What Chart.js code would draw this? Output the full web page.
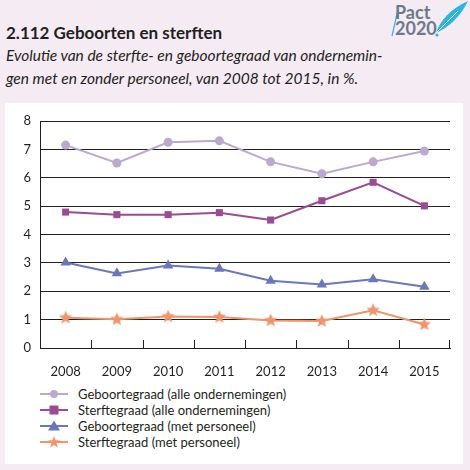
<!DOCTYPE html>
<html>
<head>
<meta charset="utf-8">
<script src="https://cdn.jsdelivr.net/npm/chart.js@4/dist/chart.umd.min.js"></script>
<style>
  body { margin: 0; width: 470px; height: 470px; background: #f5ebf3; position: relative; overflow: hidden; font-family: Lato, sans-serif; color: #231f20; }
  #title { position: absolute; left: 6px; top: 22px; font-weight: bold; font-size: 17px; }
  #sub { position: absolute; left: 6px; top: 44px; font-style: italic; font-size: 15.5px; line-height: 23px; width: 460px; }
  #panel { position: absolute; left: 5px; top: 103px; width: 458px; height: 361px; background: #fff; }
  #chart { position: absolute; left: 0; top: 103px; }
  #legend { position: absolute; left: 40px; top: 386px; font-size: 13px; }
  #legend div { height: 16px; line-height: 16px; display: flex; align-items: center; }
  #legend svg { margin-right: 10px; }
  #logo { position: absolute; left: 390px; top: 1px; width: 80px; height: 40px; }
  #logo span { position: absolute; left: 5px; font-weight: bold; font-size: 18px; line-height: 16px; color: #6b7a8a; }
</style>
</head>
<body>
<div id="title">2.112 Geboorten en sterften</div>
<div id="sub">Evolutie van de sterfte- en geboortegraad van ondernemin-<br>gen met en zonder personeel, van 2008 tot 2015, in %.</div>
<div id="logo">
  <svg width="80" height="40" style="position:absolute;left:0;top:0">
    <line x1="2" y1="35" x2="9" y2="4" stroke="#29b5e5" stroke-width="1.2"/>
    <path d="M46 32 C50 20 60 8 78 0 C72 12 64 22 50 30 Z" fill="#29b5e5"/>
    <path d="M46 32 L68 10" stroke="#fff" stroke-width="1"/>
    <circle cx="47" cy="34" r="1.6" fill="#29b5e5"/>
  </svg>
  <span style="top:3px">Pact</span>
  <span style="top:19px">2020</span>
</div>
<div id="panel"></div>
<canvas id="chart" width="470" height="275"></canvas>
<div id="legend"></div>
<script>
// jaren en waarden (in %)
const years = ['2008', '2009', '2010', '2011', '2012', '2013', '2014', '2015'];
const geboorteAlle = [7.15, 6.52, 7.25, 7.3, 6.56, 6.14, 6.56, 6.94];
const sterfteAlle = [4.79, 4.7, 4.7, 4.77, 4.51, 5.19, 5.84, 5.01];
const geboortePers = [3.01, 2.63, 2.91, 2.79, 2.37, 2.24, 2.42, 2.16];
const sterftePers = [1.07, 1.01, 1.11, 1.09, 0.97, 0.95, 1.33, 0.83];
const seriesNames = ['Geboortegraad (alle ondernemingen)', 'Sterftegraad (alle ondernemingen)', 'Geboortegraad (met personeel)', 'Sterftegraad (met personeel)'];
const yMin = 0, yMax = 8, yStep = 1;

const colors = ['#bba9d0', '#9b4a94', '#6b77bd', '#f2936a'];

// gevulde ster als puntstijl
function makeStar(color, r) {
    const c = document.createElement('canvas');
    c.width = c.height = r * 2 + 2;
    const g = c.getContext('2d');
    g.fillStyle = color;
    g.beginPath();
    for (let i = 0; i < 10; i++) {
        const rad = i % 2 === 0 ? r : r * 0.45;
        const a = -Math.PI / 2 + i * Math.PI / 5;
        g.lineTo(r + 1 + rad * Math.cos(a), r + 1 + rad * Math.sin(a));
    }
    g.closePath();
    g.fill();
    return c;
}
const star = makeStar(colors[3], 7);

const pointStyles = ['circle', 'rect', 'triangle', star];
const radii = [4.5, 5, 6, 7];
const allData = [geboorteAlle, sterfteAlle, geboortePers, sterftePers];

// kleine streepjes naar binnen op de x-as
const innerTicks = {
    id: 'innerTicks',
    afterDraw(chart) {
        const x = chart.scales.x, ctx = chart.ctx, bottom = chart.chartArea.bottom;
        ctx.save();
        ctx.strokeStyle = '#231f20';
        ctx.lineWidth = 1;
        ctx.beginPath();
        for (let i = 1; i <= years.length; i++) {
            const px = i < years.length
                ? Math.round((x.getPixelForValue(i - 1) + x.getPixelForValue(i)) / 2) + 0.5
                : chart.chartArea.right - 0.5;
            ctx.moveTo(px, bottom);
            ctx.lineTo(px, bottom - 8);
        }
        ctx.stroke();
        ctx.restore();
    }
};

document.addEventListener('DOMContentLoaded', function () {
    const ctx = document.getElementById('chart').getContext('2d');
    new Chart(ctx, {
        type: 'line',
        data: {
            labels: years,
            datasets: allData.map((d, i) => ({
                label: seriesNames[i],
                data: d,
                borderColor: colors[i],
                backgroundColor: colors[i],
                borderWidth: 2,
                pointStyle: pointStyles[i],
                pointRadius: radii[i],
                pointBorderWidth: 0,
                tension: 0
            })).reverse()
        },
        options: {
            responsive: false,
            animation: false,
            layout: { padding: { top: 18, right: 20, left: 0, bottom: 0 } },
            plugins: { legend: { display: false }, tooltip: { enabled: false } },
            scales: {
                x: {
                    offset: true,
                    grid: { display: false },
                    border: { color: '#231f20', width: 1 },
                    ticks: { color: '#231f20', font: { family: 'Lato', size: 13 }, padding: 8 },
                    afterFit(s) { s.height = 30; }
                },
                y: {
                    min: yMin, max: yMax,
                    ticks: { stepSize: yStep, color: '#231f20', font: { family: 'Lato', size: 13 }, padding: 9 },
                    grid: { color: '#231f20', drawTicks: false, lineWidth: 1 },
                    border: { color: '#231f20', width: 1 },
                    afterFit(s) { s.width = 40; }
                }
            }
        },
        plugins: [innerTicks]
    });

    // legenda met lijn + marker
    const shapes = [
        '<circle cx="14" cy="6" r="4" fill="C"/>',
        '<rect x="9.5" y="1.5" width="9" height="9" fill="C"/>',
        '<polygon points="14,0.5 20,10.5 8,10.5" fill="C"/>',
        '<polygon points="14,0 15.6,4.2 20,4.4 16.6,7.2 17.8,11.5 14,9 10.2,11.5 11.4,7.2 8,4.4 12.4,4.2" fill="C"/>'
    ];
    const leg = document.getElementById('legend');
    seriesNames.forEach((n, i) => {
        const row = document.createElement('div');
        row.innerHTML = '<svg width="28" height="12"><line x1="0" y1="6" x2="28" y2="6" stroke="' + colors[i] + '" stroke-width="2"/>' +
            shapes[i].replace('C', colors[i]) + '</svg><span>' + n + '</span>';
        leg.appendChild(row);
    });
});
</script>
</body>
</html>
